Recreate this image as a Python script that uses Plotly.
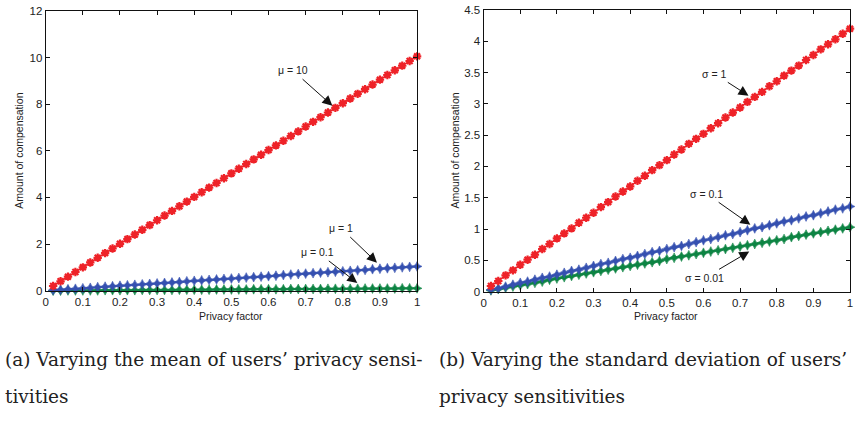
import plotly.graph_objects as go

# Privacy factor sampling grid (shared by both panels)
privacy_factor = [0.02, 0.04, 0.06, 0.08, 0.10, 0.12, 0.14, 0.16, 0.18, 0.20,
                  0.22, 0.24, 0.26, 0.28, 0.30, 0.32, 0.34, 0.36, 0.38, 0.40,
                  0.42, 0.44, 0.46, 0.48, 0.50, 0.52, 0.54, 0.56, 0.58, 0.60,
                  0.62, 0.64, 0.66, 0.68, 0.70, 0.72, 0.74, 0.76, 0.78, 0.80,
                  0.82, 0.84, 0.86, 0.88, 0.90, 0.92, 0.94, 0.96, 0.98, 1.00]

# Panel (a): varying the mean privacy sensitivity
comp_mu_10 = [0.20, 0.40, 0.60, 0.80, 1.00, 1.21, 1.41, 1.61, 1.81, 2.01,
              2.21, 2.41, 2.61, 2.81, 3.02, 3.22, 3.42, 3.62, 3.82, 4.02,
              4.22, 4.42, 4.62, 4.82, 5.03, 5.23, 5.43, 5.63, 5.83, 6.03,
              6.23, 6.43, 6.63, 6.83, 7.04, 7.24, 7.44, 7.64, 7.84, 8.04,
              8.24, 8.44, 8.64, 8.84, 9.05, 9.25, 9.45, 9.65, 9.85, 10.05]
comp_mu_1 = [0.02, 0.04, 0.06, 0.08, 0.10, 0.12, 0.15, 0.17, 0.19, 0.21,
             0.23, 0.25, 0.27, 0.29, 0.31, 0.33, 0.35, 0.37, 0.40, 0.42,
             0.44, 0.46, 0.48, 0.50, 0.52, 0.54, 0.56, 0.58, 0.60, 0.62,
             0.64, 0.67, 0.69, 0.71, 0.73, 0.75, 0.77, 0.79, 0.81, 0.83,
             0.85, 0.87, 0.89, 0.92, 0.94, 0.96, 0.98, 1.00, 1.02, 1.04]
comp_mu_01 = [0.00, 0.00, 0.01, 0.01, 0.01, 0.01, 0.01, 0.02, 0.02, 0.02,
              0.02, 0.02, 0.03, 0.03, 0.03, 0.03, 0.03, 0.04, 0.04, 0.04,
              0.04, 0.04, 0.05, 0.05, 0.05, 0.05, 0.05, 0.06, 0.06, 0.06,
              0.06, 0.06, 0.07, 0.07, 0.07, 0.07, 0.07, 0.08, 0.08, 0.08,
              0.08, 0.08, 0.09, 0.09, 0.09, 0.09, 0.09, 0.10, 0.10, 0.10]

# Panel (b): varying the standard deviation of privacy sensitivity
comp_sd_1 = [0.09, 0.17, 0.26, 0.34, 0.43, 0.51, 0.59, 0.68, 0.76, 0.85,
             0.93, 1.01, 1.10, 1.18, 1.26, 1.35, 1.43, 1.52, 1.60, 1.68,
             1.77, 1.85, 1.94, 2.02, 2.10, 2.19, 2.27, 2.36, 2.44, 2.52,
             2.61, 2.69, 2.78, 2.86, 2.94, 3.03, 3.11, 3.19, 3.28, 3.36,
             3.45, 3.53, 3.61, 3.70, 3.78, 3.87, 3.95, 4.03, 4.12, 4.20]
comp_sd_01 = [0.03, 0.05, 0.08, 0.11, 0.14, 0.16, 0.19, 0.22, 0.24, 0.27,
              0.30, 0.33, 0.35, 0.38, 0.41, 0.44, 0.46, 0.49, 0.52, 0.54,
              0.57, 0.60, 0.63, 0.65, 0.68, 0.71, 0.73, 0.76, 0.79, 0.82,
              0.84, 0.87, 0.90, 0.92, 0.95, 0.98, 1.01, 1.03, 1.06, 1.09,
              1.12, 1.14, 1.17, 1.20, 1.22, 1.25, 1.28, 1.31, 1.33, 1.36]
comp_sd_001 = [0.02, 0.04, 0.06, 0.08, 0.10, 0.12, 0.14, 0.16, 0.19, 0.21,
               0.23, 0.25, 0.27, 0.29, 0.31, 0.33, 0.35, 0.37, 0.39, 0.41,
               0.43, 0.45, 0.47, 0.49, 0.52, 0.54, 0.56, 0.58, 0.60, 0.62,
               0.64, 0.66, 0.68, 0.70, 0.72, 0.74, 0.76, 0.78, 0.80, 0.82,
               0.84, 0.87, 0.89, 0.91, 0.93, 0.95, 0.97, 0.99, 1.01, 1.03]

x_ticks = [0, 0.1, 0.2, 0.3, 0.4, 0.5, 0.6, 0.7, 0.8, 0.9, 1]
x_tick_text = ["0", "0.1", "0.2", "0.3", "0.4", "0.5", "0.6", "0.7", "0.8", "0.9", "1"]
y_ticks_a = [0, 2, 4, 6, 8, 10, 12]
y_ticks_b = [0, 0.5, 1, 1.5, 2, 2.5, 3, 3.5, 4, 4.5]
y_tick_text_b = ["0", "0.5", "1", "1.5", "2", "2.5", "3", "3.5", "4", "4.5"]

RED = "#ee2228"
BLUE = "#3550b0"
GREEN = "#0d8443"

fig = go.Figure()


def add_series(y, color, star, xa, ya):
    if star:
        marker = dict(symbol="asterisk-open", size=7, color=color,
                      line=dict(color=color, width=2.2))
    else:
        marker = dict(symbol="star-diamond", size=7, color=color,
                      line=dict(color=color, width=0.6))
    fig.add_trace(go.Scatter(
        x=privacy_factor, y=y, mode="lines+markers",
        line=dict(color=color, width=1.6), marker=marker,
        xaxis=xa, yaxis=ya, showlegend=False, cliponaxis=False))


add_series(comp_mu_01, GREEN, False, "x", "y")
add_series(comp_mu_1, BLUE, False, "x", "y")
add_series(comp_mu_10, RED, True, "x", "y")
add_series(comp_sd_001, GREEN, False, "x2", "y2")
add_series(comp_sd_01, BLUE, False, "x2", "y2")
add_series(comp_sd_1, RED, True, "x2", "y2")

tick_font = dict(family="Liberation Sans, Arial, sans-serif", size=11.5, color="#222")
axis_common = dict(showline=True, linecolor="#111", linewidth=1.2, mirror="ticks",
                   ticks="inside", ticklen=4, tickcolor="#111", tickwidth=1,
                   showgrid=False, zeroline=False, tickfont=tick_font,
                   ticklabeloverflow="allow")

fig.update_layout(
    width=857, height=421,
    margin=dict(l=0, r=0, t=0, b=0),
    paper_bgcolor="white", plot_bgcolor="white",
    xaxis=dict(domain=[43 / 857, 417 / 857], range=[0, 1], tickvals=x_ticks,
               ticktext=x_tick_text, anchor="y", **axis_common),
    yaxis=dict(domain=[1 - 293 / 421, 1 - 5 / 421], range=[0, 12], tickvals=y_ticks_a,
               anchor="x", **axis_common),
    xaxis2=dict(domain=[484 / 857, 853 / 857], range=[0, 1], tickvals=x_ticks,
                ticktext=x_tick_text, anchor="y2", **axis_common),
    yaxis2=dict(domain=[1 - 294 / 421, 1 - 4 / 421], range=[0, 4.5], tickvals=y_ticks_b,
                ticktext=y_tick_text_b, anchor="x2", **axis_common),
)

label_font = dict(family="Liberation Sans, Arial, sans-serif", size=10.5, color="#222")

# Series call-outs with arrows
callouts = [
    ("x", "y", "\u03bc = 10", 0.772, 7.93, 0.665, 9.45),
    ("x", "y", "\u03bc = 1", 0.892, 1.20, 0.795, 2.68),
    ("x", "y", "\u03bc = 0.1", 0.839, 0.33, 0.732, 1.65),
    ("x2", "y2", "\u03c3 = 1", 0.723, 3.13, 0.630, 3.48),
    ("x2", "y2", "\u03c3 = 0.1", 0.728, 1.07, 0.608, 1.565),
    ("x2", "y2", "\u03c3 = 0.01", 0.725, 0.64, 0.603, 0.22),
]
for xa, ya, text, tx, ty, lx, ly in callouts:
    fig.add_annotation(
        xref=xa, yref=ya, x=tx, y=ty, axref=xa, ayref=ya, ax=lx, ay=ly,
        text=text, font=label_font, showarrow=True, arrowhead=2,
        arrowsize=2, arrowwidth=1, arrowcolor="#111", standoff=0,
        startstandoff=2, bgcolor="rgba(0,0,0,0)")

# Axis titles
axis_titles = [
    ("Privacy factor", 230 / 857, 1 - 319 / 421, 0),
    ("Privacy factor", 668 / 857, 1 - 319 / 421, 0),
    ("Amount of compensation", 16 / 857, 1 - 149 / 421, -90),
    ("Amount of compensation", 455 / 857, 1 - 149 / 421, -90),
]
for text, px, py, ang in axis_titles:
    fig.add_annotation(xref="paper", yref="paper", x=px, y=py, text=text,
                       showarrow=False, font=label_font, textangle=ang,
                       xanchor="center", yanchor="middle")

# Sub-figure captions
cap_font = dict(family="DejaVu Serif, serif", size=18.5, color="#222")
captions = [
    ("(a) Varying the mean of users\u2019 privacy sensi-", 0, 364),
    ("tivities", 0, 402),
    ("(b) Varying the standard deviation of users\u2019", 437, 364),
    ("privacy sensitivities", 437, 402),
]
for text, px, py in captions:
    fig.add_annotation(xref="paper", yref="paper", x=px / 857, y=1 - py / 421,
                       text=text, showarrow=False, font=cap_font,
                       xanchor="left", yanchor="middle")

fig.write_html("out.html")
